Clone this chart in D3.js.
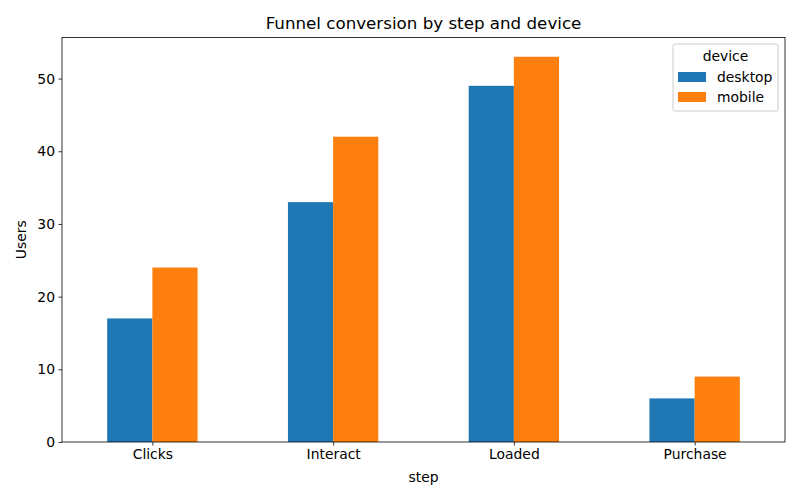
<!DOCTYPE html>
<html><head><meta charset="utf-8">
<script src="https://cdn.jsdelivr.net/npm/d3@7"></script>
<style>body{margin:0;background:#fff}svg{font-family:"DejaVu Sans",sans-serif}</style>
</head><body><div id="chart"></div>
<script>
const steps = ["Clicks", "Interact", "Loaded", "Purchase"];
const devices = ["desktop", "mobile"];
const desktopValues = [17, 33, 49, 6];
const mobileValues = [24, 42, 53, 9];
const yTicks = [0, 10, 20, 30, 40, 50];
const colors = ["#1f77b4", "#ff7f0e"];

const W = 800, H = 500;
const m = {left: 62, right: 785, top: 37.5, bottom: 442};
const svg = d3.select("#chart").append("svg").attr("width", W).attr("height", H);

const series = [desktopValues, mobileValues];
const ymax = d3.max(series.flat()) * 1.05;
const x = d3.scaleLinear().domain([-0.5, steps.length - 0.5]).range([m.left, m.right]);
const y = d3.scaleLinear().domain([0, ymax]).range([m.bottom, m.top]);
const bw = 0.25;

series.forEach((vals, si) => {
  svg.append("g").selectAll("rect").data(vals).enter().append("rect")
    .attr("x", (d, i) => x(i - bw + si * bw))
    .attr("width", (d, i) => x(i + bw) - x(i))
    .attr("y", d => y(d))
    .attr("height", d => y(0) - y(d))
    .attr("fill", colors[si]);
});

const yAxis = svg.append("g").attr("transform", `translate(${m.left},0)`)
  .call(d3.axisLeft(y).tickValues(yTicks).tickSize(3.5).tickPadding(3.5));
const xAxis = svg.append("g").attr("transform", `translate(0,${m.bottom})`)
  .call(d3.axisBottom(x).tickValues(d3.range(steps.length)).tickFormat(i => steps[i]).tickSize(3.5).tickPadding(3.5));
[xAxis, yAxis].forEach(a => {
  a.selectAll("text").attr("font-size", 13.9).attr("fill", "#000").attr("font-family", "DejaVu Sans");
  a.selectAll("line").attr("stroke", "#000").attr("stroke-width", 0.8);
  a.select(".domain").remove();
});

svg.append("rect").attr("x", m.left).attr("y", m.top)
  .attr("width", m.right - m.left).attr("height", m.bottom - m.top)
  .attr("fill", "none").attr("stroke", "#000").attr("stroke-width", 0.8);

svg.append("text").attr("x", (m.left + m.right) / 2).attr("y", 29)
  .attr("text-anchor", "middle").attr("font-size", 16.7).text("Funnel conversion by step and device");
svg.append("text").attr("x", (m.left + m.right) / 2).attr("y", 482)
  .attr("text-anchor", "middle").attr("font-size", 13.9).text("step");
svg.append("text").attr("transform", `translate(26,${(m.top + m.bottom) / 2}) rotate(-90)`)
  .attr("text-anchor", "middle").attr("font-size", 13.9).text("Users");

const lg = svg.append("g");
lg.append("rect").attr("x", 673).attr("y", 44).attr("width", 105).attr("height", 67)
  .attr("rx", 2).attr("fill", "#fff").attr("fill-opacity", 0.8).attr("stroke", "#ccc").attr("stroke-width", 1);
lg.append("text").attr("x", 725.5).attr("y", 61).attr("text-anchor", "middle").attr("font-size", 13.9).text("device");
devices.forEach((d, i) => {
  const cy = 77 + i * 20;
  lg.append("rect").attr("x", 678).attr("y", cy - 5).attr("width", 28).attr("height", 10).attr("fill", colors[i]);
  lg.append("text").attr("x", 717).attr("y", cy + 5).attr("font-size", 13.9).text(d);
});
</script></body></html>
